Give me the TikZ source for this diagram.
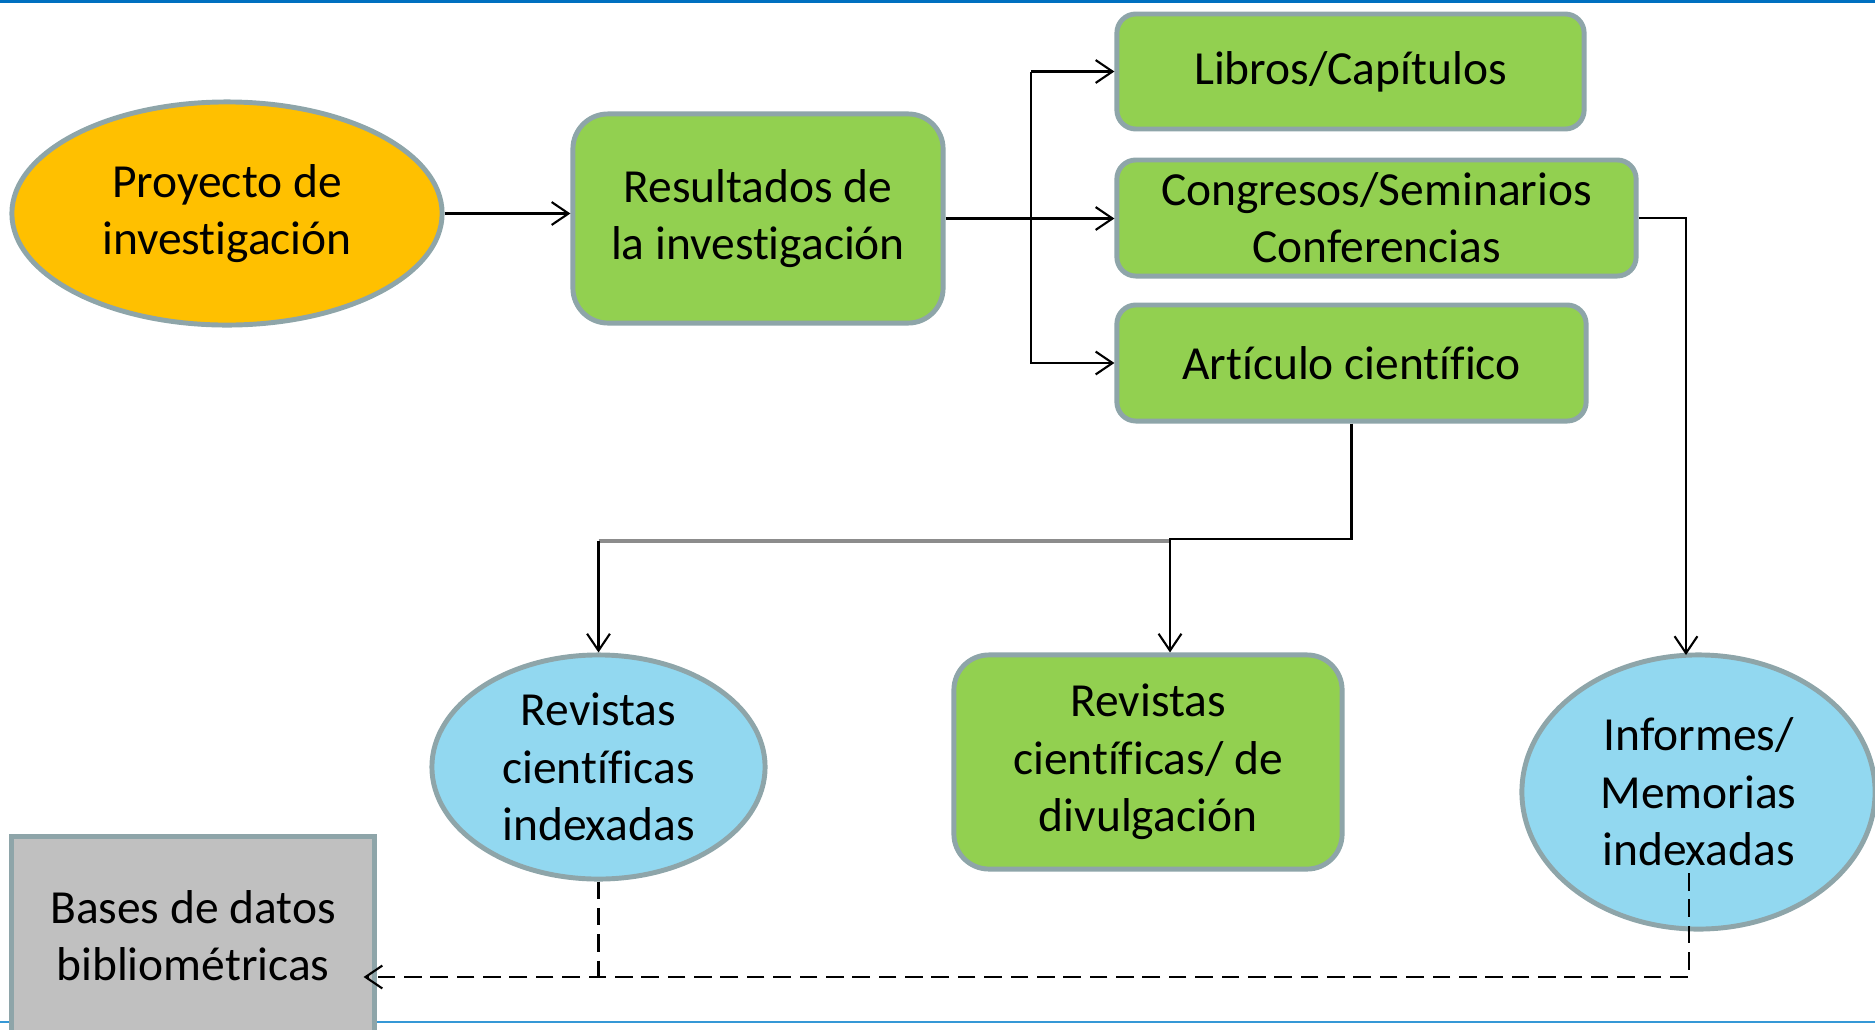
\documentclass[tikz,border=0pt]{standalone}
\usepackage{fontspec}
\setmainfont{Carlito}[Ligatures={NoCommon}]
\usetikzlibrary{arrows.meta,calc,positioning,shapes.geometric}
\definecolor{rim}{HTML}{8EA5A9}
\definecolor{leaf}{HTML}{92D050}
\definecolor{gold}{HTML}{FFC000}
\definecolor{sky}{HTML}{92D8F0}
\definecolor{stone}{HTML}{C0C0C0}
\definecolor{feed}{HTML}{8C8C8C}
\definecolor{ruledark}{HTML}{0070C0}
\definecolor{rulelight}{HTML}{3598D6}
\tikzset{>={Straight Barb[length=4.8pt,width=6.5pt]},
  every node/.style={font=\fontsize{13.5}{16.3}\selectfont,align=center,text=black},
  shapebox/.style={draw=rim,line width=1.4pt,inner sep=0pt},
  tallbox/.style={shapebox,fill=leaf,rounded corners=.35cm},
  slimbox/.style={shapebox,fill=leaf,rounded corners=.19cm},
  oval/.style={shapebox,ellipse},
  link/.style={draw=black,line width=.6pt},
  feeder/.style={draw=feed,line width=1pt},
  dashlink/.style={link,dash pattern=on 5pt off 2.5pt}}
\begin{document}
\begin{tikzpicture}[x=.01cm,y=-.01cm]
\path[use as bounding box] (0,0) rectangle (1875,1030);
\fill[ruledark] (0,0) rectangle (1875,3);
\draw[rulelight,line width=.7pt] (0,1022)--(1875,1022);
% nodes
\node[oval,fill=gold,minimum width=4.30cm,minimum height=2.23cm] (proy) at (227,213.5) {Proyecto de\\investigación};
\node[tallbox,minimum width=3.70cm,minimum height=2.09cm] (res) at (758,218.5) {Resultados de\\la investigación};
\node[slimbox,minimum width=4.67cm,minimum height=1.15cm] (lib) at (1350.5,71.5) {Libros/Capítulos};
\node[slimbox,minimum width=5.19cm,minimum height=1.16cm] (con) at (1376.5,218) {Congresos/Seminarios\\Conferencias};
\node[slimbox,minimum width=4.69cm,minimum height=1.16cm] (art) at (1351.5,363) {Artículo científico};
\node[oval,fill=sky,minimum width=3.33cm,minimum height=2.24cm] (rind) at (598.5,767) {Revistas\\científicas\\indexadas};
\node[tallbox,minimum width=3.88cm,minimum height=2.14cm] (rdiv) at (1148,762) {Revistas\\científicas/ de\\divulgación};
\node[oval,fill=sky,minimum width=3.53cm,minimum height=2.74cm] (inf) at (1698.5,792) {Informes/\\Memorias\\indexadas};
\node[shapebox,fill=stone,minimum width=3.62cm,minimum height=1.98cm] (bas) at (193,936) {Bases de datos\\bibliométricas};
% connectors
\coordinate (fork) at (1031,0);
\coordinate (split) at (1170,539);
\coordinate (infin) at (1686,655);
\coordinate (infout) at (1689,873);
\draw[link,->] (proy.east)--(proy.east-|res.west);
\draw[link,->] (res.east)--(res.east-|con.west);
\draw[link,->] (fork|-lib.west)--(lib.west);
\draw[link,->] (fork|-lib.west)--(fork|-art.west)--(art.west);
\draw[link,->] (con.east)-|(infin);
\draw[feeder] (rind.north|-split)++(0,2)--($(split)+(0,2)$);
\draw[link,->] (art.south)|-(split)--(split|-rdiv.north);
\draw[link,->] ($(rind.north|-split)+(0,2)$)--(rind.north);
\draw[dashlink] (rind.south)--++(0,98);
\draw[dashlink,->] (infout)|-($(bas.east)+(-13,41)$);
\end{tikzpicture}
\end{document}
